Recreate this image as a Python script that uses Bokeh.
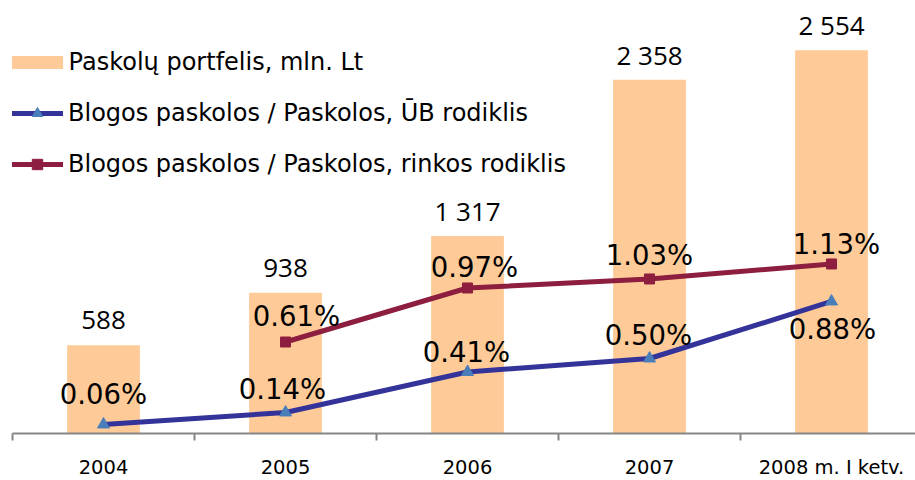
from bokeh.plotting import figure
from bokeh.models import Range1d, LinearAxis, FixedTicker, Legend, LegendItem, ColumnDataSource
from bokeh.core.properties import value
from bokeh.embed import file_html
from bokeh.resources import INLINE

# ---- data ----
categories = ["2004", "2005", "2006", "2007", "2008 m. I ketv."]
loans = [588, 938, 1317, 2358, 2554]                 # mln. Lt
ub_ratio = [0.06, 0.14, 0.41, 0.50, 0.88]            # %
market_ratio = [float("nan"), 0.61, 0.97, 1.03, 1.13]  # %

# label placement tweaks (screen px)
ub_dx = [0, -3, -1, -1, 1]
ub_dy = [-30, -23, -20, -23, 28]
mk_dx = [0, 11, 7, 0, 5]
mk_dy = [0, -26, -21, -24, -20]

xs = list(range(len(categories)))

BAR = "#FECB98"
BLUE = "#333399"
BLUE_MK = "#4A7EBB"
MAROON = "#8E1E3F"
AXIS = "#868686"

p = figure(frame_width=903, frame_height=425,
           x_range=Range1d(-0.5, 4.4615), y_range=Range1d(0, 2833),
           output_backend="svg", toolbar_location=None,
           y_axis_location=None, x_axis_location=None,
           min_border_left=12, min_border_right=0, min_border_top=8, min_border_bottom=0)
p.extra_y_ranges = {"pct": Range1d(0, 2.833)}
p.outline_line_color = None
p.xgrid.visible = False
p.ygrid.visible = False

bars = p.vbar(x=xs, top=loans, width=0.4, fill_color=BAR, line_color=None)

bar_src = ColumnDataSource(dict(x=xs, y=loans,
                                t=[f"{v:,}".replace(",", " ") for v in loans]))
p.text(x="x", y="y", text="t", source=bar_src, text_align="center",
       text_baseline="alphabetic", y_offset=-25, text_font=value("Open Sans"),
       text_font_size="26px", text_color="#000000")

ub_line = p.line(xs, ub_ratio, y_range_name="pct", line_color=BLUE, line_width=5)
ub_pts = p.scatter(xs, ub_ratio, y_range_name="pct", marker="triangle", size=12,
                   fill_color=BLUE_MK, line_color=BLUE_MK)

mk_line = p.line(xs, market_ratio, y_range_name="pct", line_color=MAROON, line_width=5)
mk_pts = p.scatter(xs, market_ratio, y_range_name="pct", marker="square", size=10,
                   fill_color=MAROON, line_color=MAROON)

ub_src = ColumnDataSource(dict(x=xs, y=ub_ratio, t=[f"{v:.2f}%" for v in ub_ratio],
                               dx=ub_dx, dy=ub_dy))
p.text(x="x", y="y", text="t", source=ub_src, y_range_name="pct",
       x_offset="dx", y_offset="dy", text_align="center", text_baseline="alphabetic",
       text_font=value("DejaVu Sans"), text_font_size="27.5px", text_color="#000000")

mk_idx = [i for i, v in enumerate(market_ratio) if v == v]
mk_src = ColumnDataSource(dict(x=[xs[i] for i in mk_idx], y=[market_ratio[i] for i in mk_idx],
                               t=[f"{market_ratio[i]:.2f}%" for i in mk_idx],
                               dx=[mk_dx[i] for i in mk_idx], dy=[mk_dy[i] for i in mk_idx]))
p.text(x="x", y="y", text="t", source=mk_src, y_range_name="pct",
       x_offset="dx", y_offset="dy", text_align="center", text_baseline="alphabetic",
       text_font=value("DejaVu Sans"), text_font_size="27.5px", text_color="#000000")

# x axis: labels at category centres, tick marks at boundaries
xaxis = LinearAxis(ticker=FixedTicker(ticks=xs, minor_ticks=[i - 0.5 for i in range(len(xs) + 1)]))
xaxis.major_label_overrides = {i: c for i, c in zip(xs, categories)}
xaxis.axis_line_color = AXIS
xaxis.axis_line_width = 2
xaxis.major_tick_out = 0
xaxis.major_tick_in = 0
xaxis.minor_tick_out = 7
xaxis.minor_tick_in = 0
xaxis.minor_tick_line_color = AXIS
xaxis.minor_tick_line_width = 2
xaxis.major_label_standoff = 15
xaxis.major_label_text_font = "DejaVu Sans"
xaxis.major_label_text_font_size = "19.5px"
xaxis.major_label_text_color = "#000000"
p.add_layout(xaxis, "below")


def style_legend(lg, glyph_w, glyph_h, standoff):
    lg.border_line_color = None
    lg.background_fill_alpha = 0
    lg.padding = 0
    lg.margin = 0
    lg.spacing = 23
    lg.glyph_width = glyph_w
    lg.glyph_height = glyph_h
    lg.label_height = 28
    lg.label_standoff = standoff
    lg.label_text_font = "DejaVu Sans"
    lg.label_text_font_size = "24px"
    lg.label_text_color = "#000000"


# bar swatch is drawn inset by 10% of the glyph box, so enlarge the box
legend_bar = Legend(items=[
    LegendItem(label="Paskolų portfelis, mln. Lt", renderers=[bars], index=0),
], location=(-7.4, 357))
style_legend(legend_bar, 64, 16, 0)
p.add_layout(legend_bar, "center")

legend_lines = Legend(items=[
    LegendItem(label="Blogos paskolos / Paskolos, ŪB rodiklis", renderers=[ub_line, ub_pts]),
    LegendItem(label="Blogos paskolos / Paskolos, rinkos rodiklis", renderers=[mk_line, mk_pts]),
], location=(-1, 255))
style_legend(legend_lines, 52, 26, 5)
p.add_layout(legend_lines, "center")

open("out.html", "w").write(file_html(p, INLINE))
